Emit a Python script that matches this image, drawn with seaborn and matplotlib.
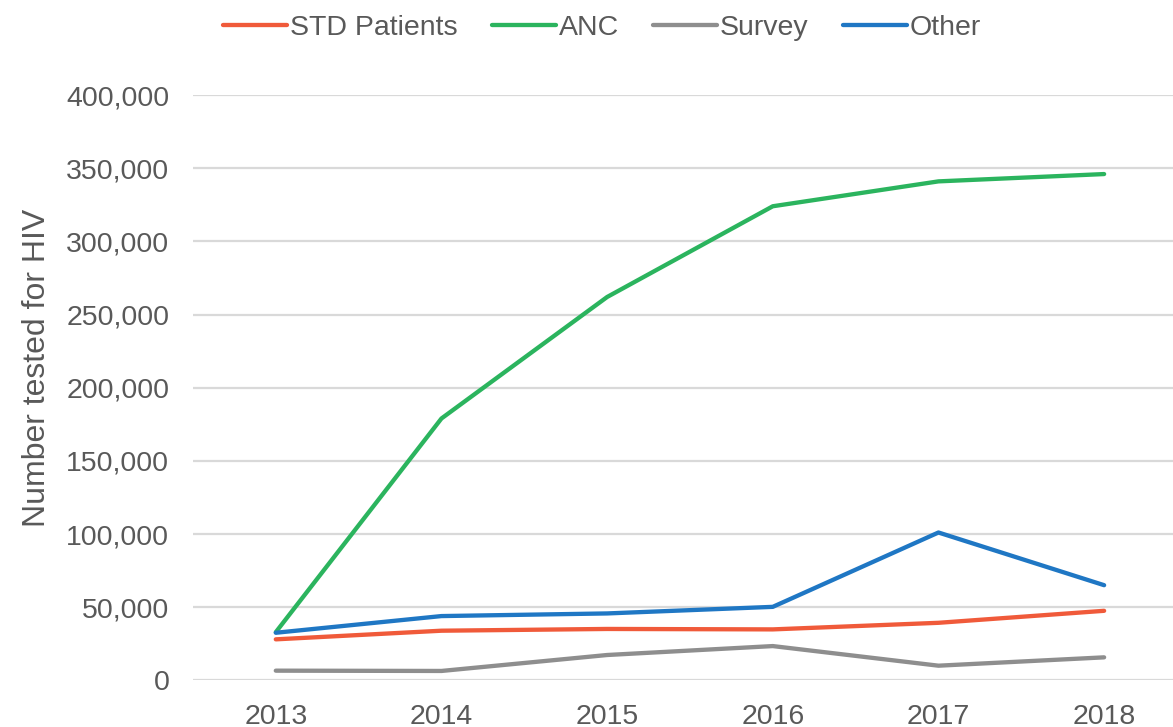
import matplotlib
matplotlib.use("Agg")
import matplotlib.pyplot as plt
import matplotlib.ticker as mticker
import pandas as pd
import seaborn as sns

years = ["2013", "2014", "2015", "2016", "2017", "2018"]
series_names = ["STD Patients", "ANC", "Survey", "Other"]
std_patients = [28100, 34000, 35200, 34900, 39400, 47600]
anc = [33000, 179000, 262000, 324000, 341000, 346000]
survey = [6700, 6500, 17400, 23500, 10100, 15800]
other = [32600, 44000, 45800, 50300, 101100, 65100]
y_ticks = [0, 50000, 100000, 150000, 200000, 250000, 300000, 350000, 400000]

colors = {"STD Patients": "#F05A3A", "ANC": "#2BB45E",
          "Survey": "#8E8E8E", "Other": "#1F77C4"}
text_color = "#595959"

frames = []
for name, vals in zip(series_names, [std_patients, anc, survey, other]):
    frames.append(pd.DataFrame({"Year": years, "Tested": vals, "Group": name}))
df = pd.concat(frames, ignore_index=True)

sns.set_style("white")
plt.rcParams["font.family"] = ["Liberation Sans", "DejaVu Sans"]

fig = plt.figure(figsize=(11.73, 7.27), dpi=100)
ax = fig.add_axes([0.1645, 0.064, 0.8474, 0.8053])

sns.lineplot(data=df, x="Year", y="Tested", hue="Group", hue_order=series_names,
             palette=colors, linewidth=3.1, sort=False, ax=ax, legend=False)

ax.set_xlim(-0.5, len(years) - 0.5)
ax.set_ylim(0, 400000)
ax.set_yticks(y_ticks)
ax.yaxis.set_major_formatter(mticker.FuncFormatter(lambda v, p: f"{int(v):,}"))
ax.grid(axis="y", color="#D9D9D9", linewidth=1.6)
ax.grid(axis="x", visible=False)
ax.set_axisbelow(True)
for s in ax.spines.values():
    s.set_visible(False)
ax.tick_params(axis="both", length=0, labelsize=20.5, colors=text_color)
ax.tick_params(axis="x", pad=17)
ax.tick_params(axis="y", pad=17)
ax.set_xlabel("")
ax.set_ylabel("Number tested for HIV", fontsize=23, color=text_color)
ax.yaxis.set_label_coords(-0.1418, 0.534)

handles = [plt.Line2D([], [], color=colors[n], linewidth=3.1) for n in series_names]
fig.legend(handles, series_names, loc="center", bbox_to_anchor=(602 / 1173, 1 - 28 / 727),
           ncol=4, frameon=False, fontsize=20.5, labelcolor=text_color,
           handlelength=2.25, handletextpad=0.1, columnspacing=1.2)

fig.savefig("out.png", dpi=100)
